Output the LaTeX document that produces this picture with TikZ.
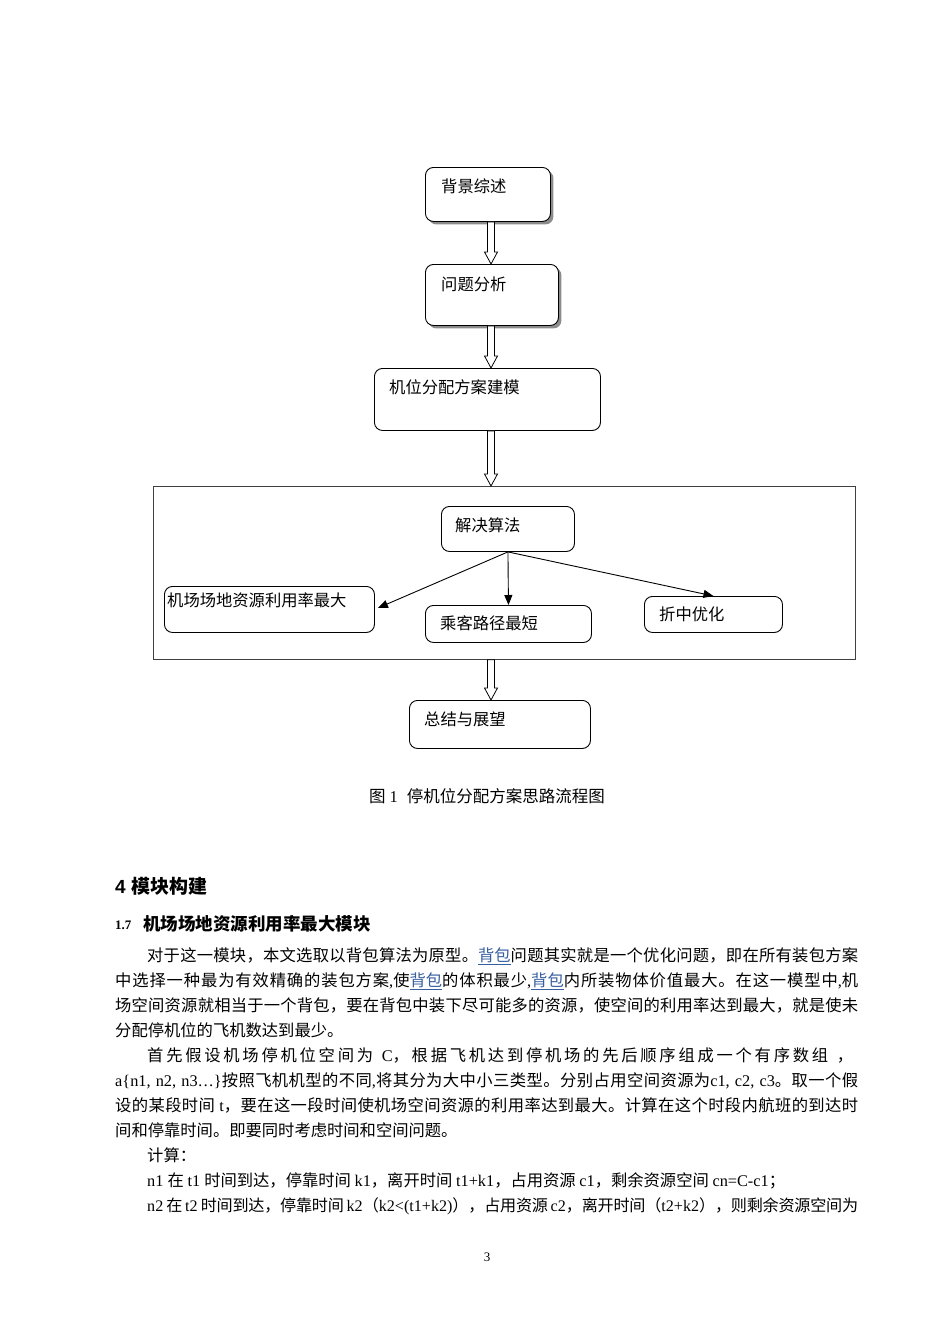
\documentclass[tikz,border=0pt]{standalone}
\usepackage{fontspec}
\usepackage{xcolor}
\usetikzlibrary{arrows.meta,shadows,calc}
\setmainfont{Liberation Serif}
\setsansfont{Liberation Sans}
\newfontfamily\cjk{Noto Sans CJK SC}
\definecolor{linkblue}{RGB}{54,95,160}
% automatic CJK / Latin font switching
\XeTeXinterchartokenstate=1
\chardef\CJKcls=20
\newcount\cjkc
\def\setcjkrange#1#2{\cjkc=#1\relax\loop\XeTeXcharclass\cjkc=\CJKcls\relax\ifnum\cjkc<#2\relax\advance\cjkc by 1\relax\repeat}
\setcjkrange{"3000}{"303F}
\setcjkrange{"4E00}{"9FFF}
\setcjkrange{"FF00}{"FFEF}
\def\latinfam{\rmfamily}
\def\cjkglue{\hskip 0pt plus 1pt minus 0.3pt\relax}
\XeTeXinterchartoks 0 \CJKcls = {\cjk}
\XeTeXinterchartoks 4095 \CJKcls = {\cjk}
\XeTeXinterchartoks \CJKcls 0 = {\latinfam}
\XeTeXinterchartoks 4095 0 = {\latinfam}
\XeTeXinterchartoks \CJKcls \CJKcls = {\cjkglue}
\newcommand\lk[1]{\textcolor{linkblue}{\underline{#1}}}
\begin{document}
\begin{tikzpicture}[x=1pt,y=-1pt,
  box/.style={draw, line width=0.9pt, rounded corners=8pt, anchor=north west, inner sep=0pt, fill=white},
  shbox/.style={box, drop shadow={shadow xshift=3pt, shadow yshift=-3pt, fill=black!45, opacity=1}},
  lbl/.style={anchor=west, inner sep=0pt, font=\fontsize{16.3}{19}\selectfont},
  body/.style={anchor=base west, inner sep=0pt, font=\fontsize{16.3}{20}\selectfont},
  blockarrow/.style={draw, fill=white, line width=0.8pt, line join=miter,
    to path={let \p1=(\tikztostart), \p2=(\tikztotarget) in
      (\x1-3.5pt,\y1) -- (\x1-3.5pt,\y2+12pt) -- (\x1-6.5pt,\y2+12pt) -- (\x1,\y2)
      -- (\x1+6.5pt,\y2+12pt) -- (\x1+3.5pt,\y2+12pt) -- (\x1+3.5pt,\y1) -- cycle}},
  thin/.style={line width=0.9pt, -{Triangle[length=10pt,width=8pt]}}
]
\fill[white] (0,0) rectangle (950,1344);
\useasboundingbox (0,0) rectangle (950,1344);

% flowchart boxes
\node[shbox, minimum width=125pt, minimum height=54pt] (bg) at (425,167) {};
\node[shbox, minimum width=133pt, minimum height=61pt] (wt) at (425,264) {};
\node[box, minimum width=226pt, minimum height=62pt] (jw) at (374,368) {};
\node[draw=black!75, line width=0.8pt, anchor=north west, inner sep=0pt,
      minimum width=702pt, minimum height=173pt] (big) at (153,486) {};
\node[box, minimum width=133pt, minimum height=45pt] (solve) at (441,506) {};
\node[box, minimum width=210pt, minimum height=46pt] (lb) at (164,586) {};
\node[box, minimum width=166pt, minimum height=37pt] (mb) at (425,605) {};
\node[box, minimum width=138pt, minimum height=36pt] (rb) at (644,596) {};
\node[box, minimum width=181pt, minimum height=48pt] (zj) at (409,700) {};

% labels
\node[lbl] (tbg) at (441,186) {背景综述};
\node[lbl] (twt) at (441,284) {问题分析};
\node[lbl] (tjw) at (389,387) {机位分配方案建模};
\node[lbl] (tsolve) at (455,525) {解决算法};
\node[lbl] (tlb) at (167,600) {机场场地资源利用率最大};
\node[lbl] (tmb) at (440,623) {乘客路径最短};
\node[lbl] (trb) at (659,614) {折中优化};
\node[lbl] (tzj) at (424,719) {总结与展望};

% hollow arrows
\coordinate (ax) at (491,0);
\path[blockarrow] (bg.south -| ax) to (wt.north -| ax);
\path[blockarrow] (wt.south -| ax) to (jw.north -| ax);
\path[blockarrow] (jw.south -| ax) to (big.north -| ax);
\path[blockarrow] (big.south -| ax) to (zj.north -| ax);

% thin arrows
\draw[thin] (solve.south) -- ($(lb.north east)+(3,22)$);
\draw[thin] (solve.south) -- (mb.north);
\draw[thin] (solve.south) -- (rb.north);

% caption
\node[lbl, font=\fontsize{16.5}{19}\selectfont] (cap) at (369,796) {图\hspace{4pt}1\hspace{9pt}停机位分配方案思路流程图};

% headings
\node[anchor=west, inner sep=0pt, font=\sffamily\bfseries\fontsize{19}{22}\selectfont] (h4) at (115,886) {\def\latinfam{\sffamily}4 模块构建};
\node[anchor=west, inner sep=0pt, font=\bfseries\fontsize{13}{15}\selectfont] (h17n) at (115,925) {1.7};
\node[anchor=west, inner sep=0pt, font=\bfseries\fontsize{17.5}{20}\selectfont] (h17) at (143,924) {机场场地资源利用率最大模块};

% body text
\node[body] (l1) at (147,961) {\makebox[711pt][s]{对于这一模块，本文选取以背包算法为原型。\lk{背包}问题其实就是一个优化问题，即在所有装包方案}};
\node[body] (l2) at (115,986) {\makebox[743pt][s]{中选择一种最为有效精确的装包方案,使\lk{背包}的体积最少,\lk{背包}内所装物体价值最大。在这一模型中,机}};
\node[body] (l3) at (115,1011) {\makebox[743pt][s]{场空间资源就相当于一个背包，要在背包中装下尽可能多的资源，使空间的利用率达到最大，就是使未}};
\node[body] (l4) at (115,1036) {分配停机位的飞机数达到最少。};
\node[body] (l5) at (147,1061) {\makebox[706pt][s]{首先假设机场停机位空间为 C，根据飞机达到停机场的先后顺序组成一个有序数组 ，}};
\node[body] (l6) at (115,1086) {\makebox[743pt][s]{a\{n1, n2, n3…\}按照飞机机型的不同,将其分为大中小三类型。分别占用空间资源为c1, c2, c3。取一个假}};
\node[body] (l7) at (115,1111) {\makebox[743pt][s]{设的某段时间 t，要在这一段时间使机场空间资源的利用率达到最大。计算在这个时段内航班的到达时}};
\node[body] (l8) at (115,1136) {间和停靠时间。即要同时考虑时间和空间问题。};
\node[body] (l9) at (147,1161) {计算：};
\node[body] (l10) at (147,1186) {n1 在 t1 时间到达，停靠时间 k1，离开时间 t1+k1，占用资源 c1，剩余资源空间 cn=C-c1；};
\node[body, font=\fontsize{16.1}{20}\selectfont] (l11) at (147,1211) {\makebox[711pt][s]{n2 在 t2 时间到达，停靠时间 k2（k2<(t1+k2)），占用资源 c2，离开时间（t2+k2），则剩余资源空间为}};

% page number
\node[inner sep=0pt, font=\fontsize{13}{15}\selectfont] (pg) at (487,1257) {3};
\end{tikzpicture}
\end{document}
